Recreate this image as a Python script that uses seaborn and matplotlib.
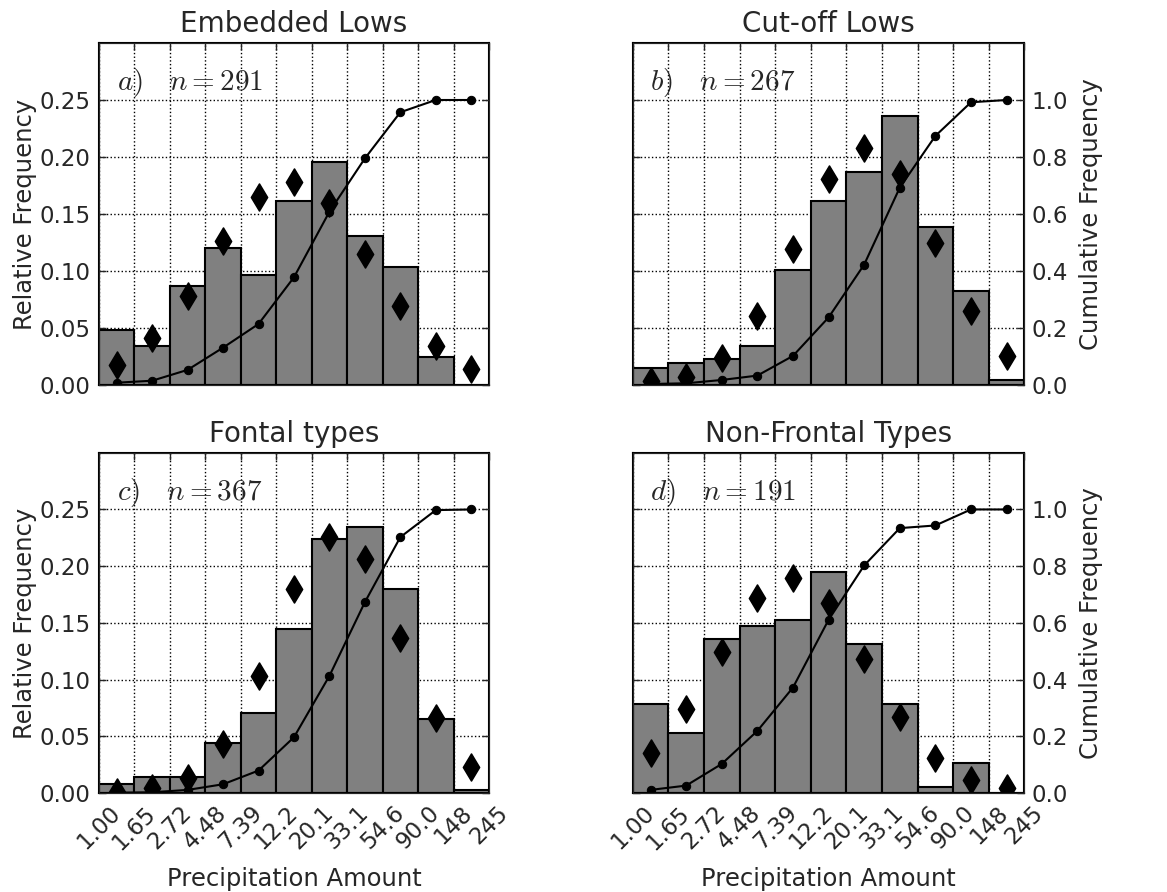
import numpy as np
import matplotlib
matplotlib.use("Agg")
import matplotlib.pyplot as plt
import seaborn as sns

# bin edges (log-spaced), used as tick labels
edge_labels = ["1.00", "1.65", "2.72", "4.48", "7.39", "12.2", "20.1",
               "33.1", "54.6", "90.0", "148", "245"]

titles = ["Embedded Lows", "Cut-off Lows", "Fontal types", "Non-Frontal Types"]
tags = ["a", "b", "c", "d"]
n_cases = [291, 267, 367, 191]

# relative frequency of each bin (bars)
rel_a = [0.0484, 0.0346, 0.0866, 0.1203, 0.0962, 0.1617, 0.1960, 0.1306, 0.1033, 0.0244, 0.0]
rel_b = [0.0150, 0.0191, 0.0229, 0.0338, 0.1012, 0.1614, 0.1872, 0.2362, 0.1385, 0.0827, 0.0044]
rel_c = [0.0082, 0.0141, 0.0141, 0.0441, 0.0711, 0.1445, 0.2236, 0.2344, 0.1801, 0.0652, 0.0029]
rel_d = [0.0787, 0.0529, 0.1363, 0.1469, 0.1525, 0.1945, 0.1313, 0.0787, 0.0053, 0.0264, 0.0]

# diamonds (relative frequency scale)
dia_a = [0.0176, 0.0411, 0.0783, 0.1262, 0.1652, 0.1781, 0.1593, 0.1153, 0.0690, 0.0343, 0.0138]
dia_b = [0.0037, 0.0073, 0.0235, 0.0608, 0.1195, 0.1805, 0.2083, 0.1848, 0.1248, 0.0645, 0.0255]
dia_c = [0.0015, 0.0044, 0.0138, 0.0432, 0.1037, 0.1801, 0.2253, 0.2065, 0.1366, 0.0661, 0.0235]
dia_d = [0.0353, 0.0740, 0.1248, 0.1718, 0.1895, 0.1675, 0.1181, 0.0670, 0.0308, 0.0118, 0.0044]

# cumulative frequency (right axis)
cum_a = [0.008, 0.015, 0.053, 0.131, 0.214, 0.378, 0.608, 0.795, 0.957, 1.0, 1.0]
cum_b = [0.0035, 0.006, 0.0176, 0.033, 0.102, 0.237, 0.4225, 0.6925, 0.874, 0.992, 1.0]
cum_c = [0.002, 0.0035, 0.0118, 0.0317, 0.0799, 0.1974, 0.4136, 0.6733, 0.9025, 0.9977, 1.0]
cum_d = [0.0118, 0.027, 0.1034, 0.2197, 0.3725, 0.611, 0.8026, 0.9342, 0.9436, 1.0, 1.0]

rels = [rel_a, rel_b, rel_c, rel_d]
dias = [dia_a, dia_b, dia_c, dia_d]
cums = [cum_a, cum_b, cum_c, cum_d]

sns.set_style("white")
plt.rcParams["font.family"] = ["DejaVu Sans"]
plt.rcParams["mathtext.fontset"] = "cm"

fig = plt.figure(figsize=(11.67, 8.92), dpi=100)
positions = [
    [0.0848, 0.5684, 0.3342, 0.3834],
    [0.5422, 0.5684, 0.3356, 0.3834],
    [0.0848, 0.1107, 0.3342, 0.3818],
    [0.5422, 0.1107, 0.3356, 0.3818],
]

nb = len(rel_a)
xs = np.arange(nb)
tick_pos = np.arange(nb + 1) - 0.5

for i in range(4):
    ax = fig.add_axes(positions[i])
    ax.set_axisbelow(True)
    sns.barplot(x=xs, y=rels[i], ax=ax, color="#808080", saturation=1,
                edgecolor="black", linewidth=1.5, width=1.0, errorbar=None)
    sns.scatterplot(x=xs, y=dias[i], ax=ax, marker="d", s=190,
                    color="black", edgecolor="black", zorder=3)
    ax.set_xlim(-0.5, nb - 0.5)
    ax.set_ylim(0, 0.3)
    ax.set_yticks(np.arange(0, 0.26, 0.05))
    ax.set_xticks(tick_pos)
    ax.grid(True, color="black", linestyle=":", linewidth=1)
    ax.tick_params(direction="in", top=True, right=False, length=5,
                   width=1, labelsize=16.5, pad=6)
    for sp in ax.spines.values():
        sp.set_linewidth(1.5)
        sp.set_color("black")
    ax.set_title(titles[i], fontsize=20, pad=8)

    ax2 = ax.twinx()
    sns.lineplot(x=xs, y=cums[i], ax=ax2, color="black", marker="o",
                 markersize=6, linewidth=1.5, markeredgecolor="black")
    ax2.set_ylim(0, 1.2)
    ax2.set_yticks(np.arange(0, 1.01, 0.2))
    ax2.tick_params(direction="in", length=5, width=1, labelsize=16.5, pad=5)
    ax2.set_xlim(-0.5, nb - 0.5)

    ax.text(0.045, 0.862, r"$%s)\quad n=%d$" % (tags[i], n_cases[i]),
            transform=ax.transAxes, fontsize=21, va="baseline")

    if i % 2 == 0:
        ax.set_ylabel("Relative Frequency", fontsize=17.5, labelpad=2)
        ax2.set_yticklabels([])
        ax2.set_ylabel("")
    else:
        ax.set_yticklabels([])
        ax.set_ylabel("")
        ax2.set_yticklabels(["0.0", "0.2", "0.4", "0.6", "0.8", "1.0"])
        ax2.set_ylabel("Cumulative Frequency", fontsize=17.5, labelpad=8)

    if i >= 2:
        ax.set_xticklabels(edge_labels, rotation=45, ha="center")
        ax.set_xlabel("Precipitation Amount", fontsize=17.5, labelpad=9)
    else:
        ax.set_xticklabels([])
        ax.set_xlabel("")

fig.savefig("out.png", dpi=100)
